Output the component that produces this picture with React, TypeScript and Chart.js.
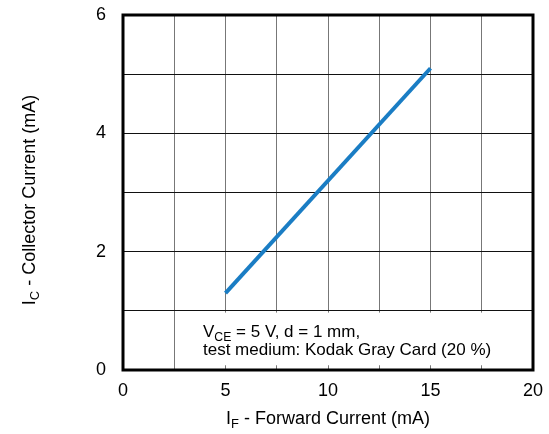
import { useEffect, useRef } from 'react';
import { Chart, registerables } from 'chart.js';

Chart.register(...registerables);

const forwardCurrent = [5, 15];
const collectorCurrent = [1.3, 5.1];
const xLabelTicks = [0, 5, 10, 15, 20];
const yLabelTicks = [0, 2, 4, 6];
const xTitle: [string, string, string] = ['I', 'F', ' - Forward Current (mA)'];
const yTitle: [string, string, string] = ['I', 'C', ' - Collector Current (mA)'];
const noteLine1: [string, string, string] = ['V', 'CE', ' = 5 V, d = 1 mm,'];
const noteLine2 = 'test medium: Kodak Gray Card (20 %)';

const FONT = '"Liberation Sans", Arial, sans-serif';

function subWidth(ctx: CanvasRenderingContext2D, parts: [string, string, string], size: number) {
  ctx.font = `${size}px ${FONT}`;
  const a = ctx.measureText(parts[0]).width;
  const c = ctx.measureText(parts[2]).width;
  ctx.font = `${size * 0.72}px ${FONT}`;
  const b = ctx.measureText(parts[1]).width;
  return a + b + c;
}

function drawSub(ctx: CanvasRenderingContext2D, parts: [string, string, string], x: number, y: number, size: number) {
  ctx.textAlign = 'left';
  ctx.textBaseline = 'alphabetic';
  ctx.font = `${size}px ${FONT}`;
  ctx.fillText(parts[0], x, y);
  let cx = x + ctx.measureText(parts[0]).width;
  ctx.font = `${size * 0.72}px ${FONT}`;
  ctx.fillText(parts[1], cx, y + size * 0.22);
  cx += ctx.measureText(parts[1]).width;
  ctx.font = `${size}px ${FONT}`;
  ctx.fillText(parts[2], cx, y);
}

const decorPlugin = {
  id: 'decor',
  beforeDatasetsDraw(chart: any) {
    const { ctx, scales } = chart;
    const x = scales.x;
    const y = scales.y;
    const l = x.getPixelForValue(3.4);
    const r = x.getPixelForValue(19.9);
    const t = y.getPixelForValue(0.97);
    const b = y.getPixelForValue(0.08);
    ctx.save();
    ctx.fillStyle = '#ffffff';
    ctx.fillRect(l, t, r - l, b - t);
    ctx.restore();
  },
  afterDraw(chart: any) {
    const { ctx, chartArea } = chart;
    const { left, right, top, bottom } = chartArea;
    ctx.save();
    ctx.strokeStyle = '#000000';
    ctx.lineWidth = 3;
    ctx.strokeRect(left, top, right - left, bottom - top);

    ctx.fillStyle = '#000000';
    // note text
    drawSub(ctx, noteLine1, 203, 337, 17);
    ctx.font = `17px ${FONT}`;
    ctx.fillText(noteLine2, 203, 355);

    // x title
    const xs = 18;
    const xw = subWidth(ctx, xTitle, xs);
    drawSub(ctx, xTitle, (left + right) / 2 - xw / 2, 424, xs);

    // y title
    const yw = subWidth(ctx, yTitle, xs);
    ctx.translate(35, 200);
    ctx.rotate(-Math.PI / 2);
    drawSub(ctx, yTitle, -yw / 2, 0, xs);
    ctx.restore();
  },
};

export default function App() {
  const ref = useRef<HTMLCanvasElement | null>(null);
  useEffect(() => {
    document.body.style.margin = '0';
    if (!ref.current) return;
    const chart = new Chart(ref.current, {
      type: 'scatter',
      data: {
        datasets: [
          {
            data: forwardCurrent.map((v, i) => ({ x: v, y: collectorCurrent[i] })),
            showLine: true,
            borderColor: '#1a7dc4',
            borderWidth: 4,
            pointRadius: 0,
            fill: false,
          },
        ],
      },
      options: {
        animation: false,
        responsive: false,
        devicePixelRatio: 1,
        layout: { padding: { top: 15, right: 16, left: 0, bottom: 0 } },
        plugins: { legend: { display: false }, tooltip: { enabled: false } },
        scales: {
          x: {
            type: 'linear',
            min: 0,
            max: 20,
            afterFit: (s: any) => {
              s.height = 64;
              s.paddingLeft = 0;
              s.paddingRight = 0;
            },
            grid: { color: '#777777', lineWidth: 1, drawTicks: false },
            border: { display: false },
            ticks: {
              stepSize: 2.5,
              padding: 10,
              color: '#000000',
              font: { family: FONT, size: 18 },
              maxRotation: 0,
              autoSkip: false,
              callback: (v: any) => (xLabelTicks.includes(Number(v)) ? String(v) : ''),
            },
          },
          y: {
            type: 'linear',
            min: 0,
            max: 6,
            afterFit: (s: any) => {
              s.width = 123;
              s.paddingTop = 0;
              s.paddingBottom = 0;
            },
            grid: { color: '#111111', lineWidth: 1, drawTicks: false },
            border: { display: false },
            ticks: {
              stepSize: 1,
              padding: 17,
              color: '#000000',
              font: { family: FONT, size: 18 },
              autoSkip: false,
              callback: (v: any) => (yLabelTicks.includes(Number(v)) ? String(v) : ''),
            },
          },
        },
      },
      plugins: [decorPlugin],
    });
    return () => chart.destroy();
  }, []);
  return (
    <div style={{ width: 549, height: 434 }}>
      <canvas ref={ref} width={549} height={434} />
    </div>
  );
}
